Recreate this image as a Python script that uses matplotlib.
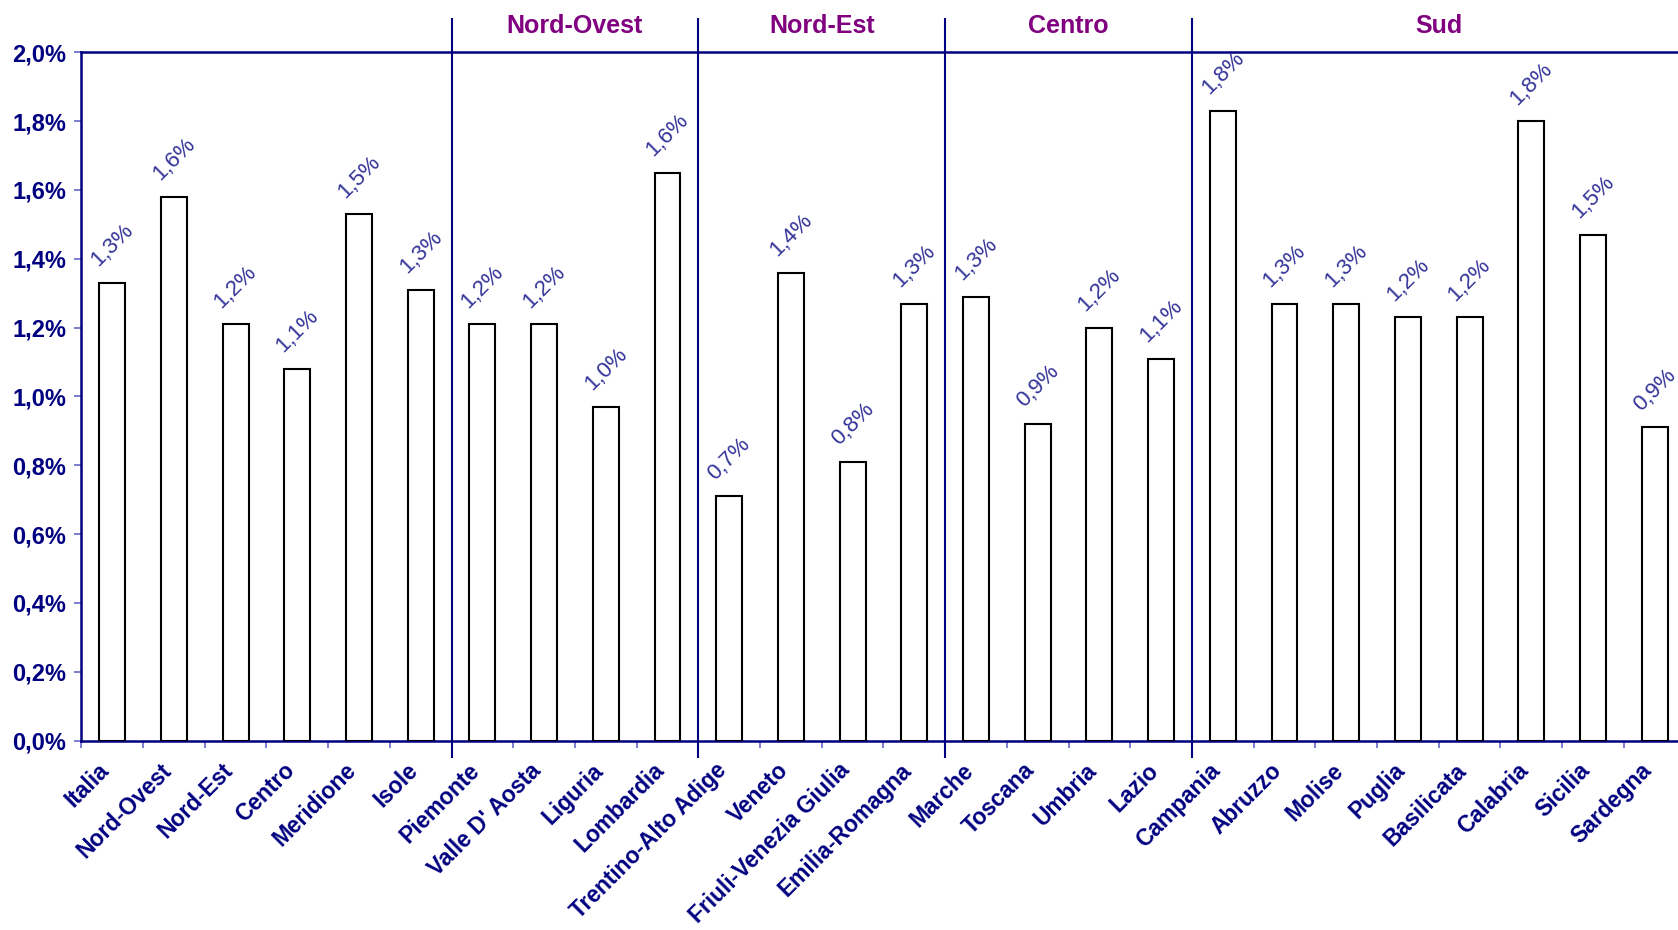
import numpy as np
import matplotlib
matplotlib.use("Agg")
import matplotlib.pyplot as plt
from matplotlib.ticker import FuncFormatter

plt.rcParams['font.family'] = ['Liberation Sans', 'DejaVu Sans']

# data
regions = ['Italia', 'Nord-Ovest', 'Nord-Est', 'Centro', 'Meridione', 'Isole',
           'Piemonte', "Valle D' Aosta", 'Liguria', 'Lombardia',
           'Trentino-Alto Adige', 'Veneto', 'Friuli-Venezia Giulia', 'Emilia-Romagna',
           'Marche', 'Toscana', 'Umbria', 'Lazio',
           'Campania', 'Abruzzo', 'Molise', 'Puglia', 'Basilicata', 'Calabria',
           'Sicilia', 'Sardegna']
values = [1.33, 1.58, 1.21, 1.08, 1.53, 1.31,
          1.21, 1.21, 0.97, 1.65,
          0.71, 1.36, 0.81, 1.27,
          1.29, 0.92, 1.20, 1.11,
          1.83, 1.27, 1.27, 1.23, 1.23, 1.80, 1.47, 0.91]
groups = ['Nord-Ovest', 'Nord-Est', 'Centro', 'Sud']
group_bounds = [(6, 10), (10, 14), (14, 18), (18, 26)]

navy = '#000080'
purple = '#800080'
label_blue = '#333399'
tick_blue = '#6666cc'

fig = plt.figure(figsize=(16.78, 9.30), dpi=100)
ax = fig.add_axes([0.0485, 0.2037, 0.956, 0.740])

x = np.arange(len(regions))
ax.bar(x, values, width=0.42, color='white', edgecolor='black', linewidth=1.5, zorder=3)

for xi, v in zip(x, values):
    ax.annotate(f"{v:.1f}%".replace('.', ','), (xi, v), xytext=(0, 27),
                textcoords='offset points', ha='center', va='center',
                rotation=45, fontsize=16, color=label_blue)

# category labels, rotated under the axis
for xi, name in zip(x, regions):
    ax.annotate(name, (xi, 0), xytext=(-4.5, -19), textcoords='offset points',
                ha='right', va='center', rotation=45, rotation_mode='anchor',
                fontsize=16.4, fontweight='bold', color=navy, annotation_clip=False)

ax.set_xlim(-0.5, len(regions) - 0.5)
ax.set_ylim(0, 2.0)
ax.set_yticks(np.arange(0, 2.01, 0.2))
ax.yaxis.set_major_formatter(FuncFormatter(lambda v, p: f"{v:.1f}%".replace('.', ',')))

ax.set_xticks(np.arange(len(regions) + 1) - 0.5)
ax.set_xticklabels([])

ax.tick_params(axis='x', length=5, width=1.2, color=tick_blue)
ax.tick_params(axis='y', length=5, width=1.2, color=tick_blue, pad=6,
               labelsize=17, labelcolor=navy)
for lab in ax.get_yticklabels():
    lab.set_fontweight('bold')

for s in ['left', 'bottom', 'top']:
    ax.spines[s].set_color(navy)
    ax.spines[s].set_linewidth(1.8)
ax.spines['right'].set_visible(False)

# group dividers and titles
trans = ax.get_xaxis_transform()
for name, (a, b) in zip(groups, group_bounds):
    ax.plot([a - 0.5, a - 0.5], [-0.024, 1.0485], transform=trans, color=navy,
            linewidth=1.5, clip_on=False, zorder=4)
    ax.text((a + b) / 2 - 0.5, 1.038, name, transform=trans, ha='center', va='center',
            fontsize=18, fontweight='bold', color=purple)

fig.savefig('out.png', dpi=100)
